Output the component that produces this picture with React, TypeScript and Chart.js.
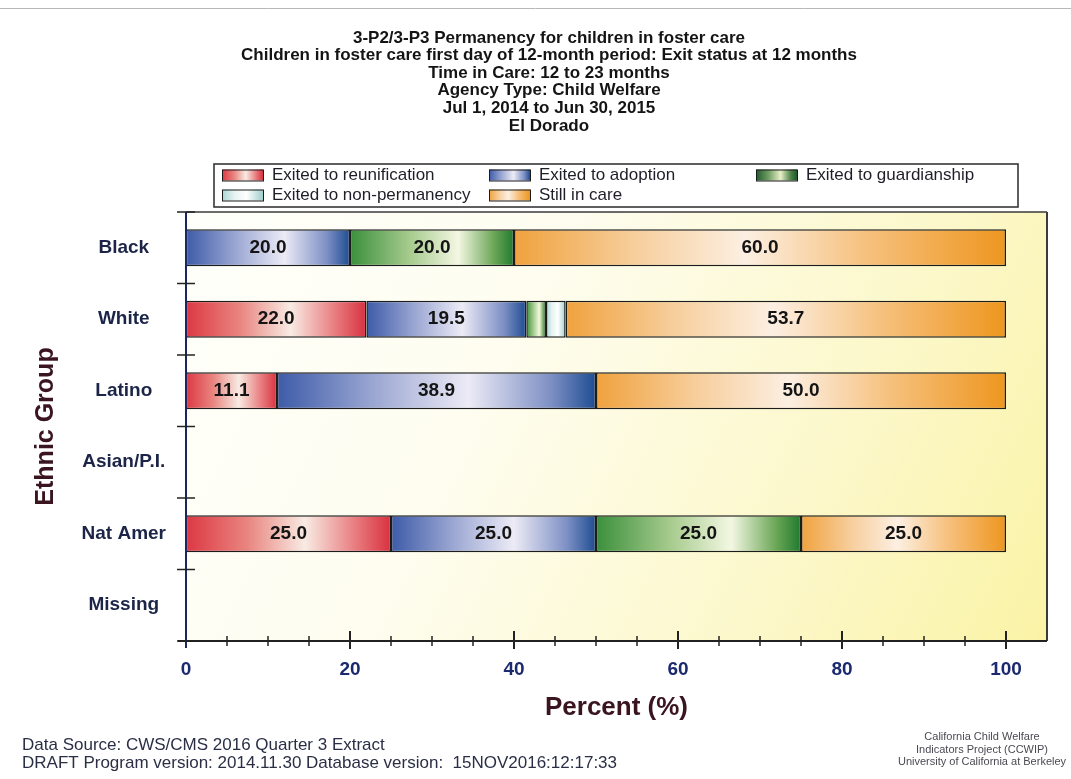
import { useEffect, useRef } from "react";
import { Chart, registerables } from "chart.js";

Chart.register(...registerables);

// ---- data ----
const categories = ["Black", "White", "Latino", "Asian/P.I.", "Nat Amer", "Missing"];
const reunification = [null, 22.0, 11.1, null, 25.0, null];
const adoption = [20.0, 19.5, 38.9, null, 25.0, null];
const guardianship = [20.0, 2.4, null, null, 25.0, null];
const nonPermanency = [null, 2.4, null, null, null, null];
const stillInCare = [60.0, 53.7, 50.0, null, 25.0, null];
const seriesNames = [
  "Exited to reunification",
  "Exited to adoption",
  "Exited to guardianship",
  "Exited to non-permanency",
  "Still in care",
];
const xTickLabels = [0, 20, 40, 60, 80, 100];
const titleLines = [
  "3-P2/3-P3 Permanency for children in foster care",
  "Children in foster care first day of 12-month period: Exit status at 12 months",
  "Time in Care: 12 to 23 months",
  "Agency Type: Child Welfare",
  "Jul 1, 2014 to Jun 30, 2015",
  "El Dorado",
];
const footerLeft = [
  "Data Source: CWS/CMS 2016 Quarter 3 Extract",
  "DRAFT Program version: 2014.11.30 Database version:  15NOV2016:12:17:33",
];
const footerRight = [
  "California Child Welfare",
  "Indicators Project (CCWIP)",
  "University of California at Berkeley",
];

const seriesValues = [reunification, adoption, guardianship, nonPermanency, stillInCare];

// ---- styling ----
const SANS = "'Liberation Sans', Arial, sans-serif";
const NARROW = "'Liberation Sans Narrow', 'Liberation Sans', Arial, sans-serif";

type Stop = [number, string];
const shading: Stop[][] = [
  [[0, "#dc3843"], [0.3, "#e98580"], [0.58, "#f8ebe3"], [0.82, "#e97f82"], [1, "#d8313f"]],
  [[0, "#3d5ba8"], [0.3, "#9aa6d2"], [0.6, "#ecebf6"], [0.86, "#7d8fc4"], [1, "#1e4d92"]],
  [[0, "#3a8f3c"], [0.35, "#a3c98a"], [0.66, "#f3f7e2"], [0.88, "#6aa656"], [1, "#1f7a2e"]],
  [[0, "#a9d6d4"], [0.3, "#e6f3f1"], [0.6, "#ffffff"], [1, "#9fcfcc"]],
  [[0, "#f0a23e"], [0.25, "#f7cf9e"], [0.47, "#fcefe2"], [0.72, "#f6c07c"], [1, "#ee961f"]],
];
const legendShading: Stop[][] = [
  shading[0],
  shading[1],
  [[0, "#1f5a2e"], [0.3, "#6f9c62"], [0.6, "#e8f0c8"], [0.85, "#4d8248"], [1, "#1c5a2c"]],
  shading[3],
  shading[4],
];
const flatColors = ["#e06068", "#8090c8", "#70b060", "#d8eeee", "#f4b060"];

function makeGradient(ctx: CanvasRenderingContext2D, x0: number, x1: number, stops: Stop[]) {
  const g = ctx.createLinearGradient(x0, 0, x1, 0);
  stops.forEach(([o, c]) => g.addColorStop(o, c));
  return g;
}

const segmentFill = (d: number) => (c: any) => {
  const chart = c.chart;
  const xs = chart.scales?.x;
  if (!xs || c.type !== "data") return flatColors[d];
  const i = c.dataIndex;
  let start = 0;
  for (let k = 0; k < d; k++) start += seriesValues[k][i] ?? 0;
  const v = seriesValues[d][i] ?? 0;
  const x0 = xs.getPixelForValue(start);
  const x1 = xs.getPixelForValue(start + v);
  if (!(x1 > x0)) return flatColors[d];
  return makeGradient(chart.ctx, x0, x1, shading[d]);
};

// plot background and page
const backdrop = {
  id: "backdrop",
  beforeDraw(chart: any) {
    const { ctx, chartArea: a } = chart;
    ctx.save();
    ctx.fillStyle = "#ffffff";
    ctx.fillRect(0, 0, chart.width, chart.height);
    // faint frame line near the top edge
    ctx.strokeStyle = "#b8b8b8";
    ctx.lineWidth = 1;
    ctx.beginPath();
    ctx.moveTo(0, 8.5);
    ctx.lineTo(chart.width, 8.5);
    ctx.stroke();
    const g = ctx.createLinearGradient(a.left, a.top, a.right, a.bottom);
    g.addColorStop(0, "#fffffb");
    g.addColorStop(0.35, "#fefdf0");
    g.addColorStop(0.7, "#fcf8cc");
    g.addColorStop(1, "#faf3a6");
    ctx.fillStyle = g;
    ctx.fillRect(a.left, a.top, a.right - a.left, a.bottom - a.top);
    ctx.restore();
  },
};

// value text centred in each wide enough segment
const segmentLabels = {
  id: "segmentLabels",
  afterDatasetsDraw(chart: any) {
    const { ctx } = chart;
    ctx.save();
    ctx.font = `bold 19px ${SANS}`;
    ctx.fillStyle = "#141414";
    ctx.textAlign = "center";
    ctx.textBaseline = "middle";
    chart.data.datasets.forEach((ds: any, d: number) => {
      const meta = chart.getDatasetMeta(d);
      meta.data.forEach((el: any, i: number) => {
        const v = ds.data[i];
        if (v == null || v < 5) return;
        const cx = (el.x + el.base) / 2;
        ctx.fillText(v.toFixed(1), cx, el.y);
      });
    });
    ctx.restore();
  },
};

// frame, axis lines, tick marks, legend, titles and footnotes
const decorations = {
  id: "decorations",
  afterDraw(chart: any) {
    const { ctx, chartArea: a } = chart;
    const xs = chart.scales.x;
    const ys = chart.scales.y;
    ctx.save();

    // frame
    ctx.strokeStyle = "#3a3a3a";
    ctx.lineWidth = 1.5;
    ctx.beginPath();
    ctx.moveTo(a.left, a.top);
    ctx.lineTo(a.right, a.top);
    ctx.stroke();
    ctx.lineWidth = 2;
    ctx.beginPath();
    ctx.moveTo(a.right, a.top);
    ctx.lineTo(a.right, a.bottom);
    ctx.stroke();

    // x axis line
    ctx.strokeStyle = "#222222";
    ctx.lineWidth = 2;
    ctx.beginPath();
    ctx.moveTo(a.left - 8, a.bottom);
    ctx.lineTo(a.right, a.bottom);
    ctx.stroke();

    // y axis line
    ctx.strokeStyle = "#1d2560";
    ctx.beginPath();
    ctx.moveTo(a.left, a.top);
    ctx.lineTo(a.left, a.bottom + 7);
    ctx.stroke();

    // y tick marks at category boundaries
    ctx.strokeStyle = "#222222";
    ctx.lineWidth = 1.5;
    const n = categories.length;
    for (let i = 0; i <= n; i++) {
      let y: number;
      if (i === 0) y = a.top;
      else if (i === n) y = a.bottom;
      else y = (ys.getPixelForValue(i - 1) + ys.getPixelForValue(i)) / 2;
      ctx.beginPath();
      ctx.moveTo(a.left - 9, y);
      ctx.lineTo(a.left + 9, y);
      ctx.stroke();
    }

    // x tick marks every 5, longer every 20
    for (let v = 5; v <= 100; v += 5) {
      const x = xs.getPixelForValue(v);
      const major = v % 20 === 0;
      ctx.lineWidth = major ? 2 : 1.5;
      ctx.beginPath();
      ctx.moveTo(x, a.bottom - (major ? 10 : 5));
      ctx.lineTo(x, a.bottom + (major ? 8 : 5));
      ctx.stroke();
    }

    // title
    ctx.fillStyle = "#141414";
    ctx.textAlign = "center";
    ctx.textBaseline = "middle";
    ctx.font = `bold 17px ${SANS}`;
    titleLines.forEach((t, k) => ctx.fillText(t, 549, 38 + k * 17.6));

    // legend box
    const lx = 214, ly = 164, lw = 804, lh = 43;
    ctx.fillStyle = "#ffffff";
    ctx.fillRect(lx, ly, lw, lh);
    ctx.strokeStyle = "#2a2a2a";
    ctx.lineWidth = 1.5;
    ctx.strokeRect(lx, ly, lw, lh);
    const cols = [222, 489, 756];
    const rows = [175, 195];
    ctx.font = `17px ${SANS}`;
    ctx.textAlign = "left";
    seriesNames.forEach((name, k) => {
      const cx = cols[k % 3];
      const cy = rows[Math.floor(k / 3)];
      const sw = 41, sh = 11;
      ctx.fillStyle = makeGradient(ctx, cx, cx + sw, legendShading[k]);
      ctx.fillRect(cx, cy - sh / 2, sw, sh);
      ctx.strokeStyle = "#1a1a1a";
      ctx.lineWidth = 1;
      ctx.strokeRect(cx + 0.5, cy - sh / 2 + 0.5, sw, sh);
      ctx.fillStyle = "#1e1e28";
      ctx.fillText(name, cx + 50, cy);
    });

    // footnotes
    ctx.fillStyle = "#2a2f45";
    ctx.font = `17px ${SANS}`;
    ctx.textAlign = "left";
    footerLeft.forEach((t, k) => ctx.fillText(t, 22, 745 + k * 18));
    ctx.fillStyle = "#4a4a52";
    ctx.font = `11px ${NARROW}`;
    ctx.textAlign = "center";
    footerRight.forEach((t, k) => ctx.fillText(t, 982, 737 + k * 12.5));

    ctx.restore();
  },
};

export default function App() {
  const ref = useRef<HTMLCanvasElement>(null);

  useEffect(() => {
    const canvas = ref.current;
    if (!canvas) return;
    const chart = new Chart(canvas, {
      type: "bar",
      data: {
        labels: categories,
        datasets: seriesValues.map((vals, d) => ({
          label: seriesNames[d],
          data: vals,
          backgroundColor: segmentFill(d),
          borderColor: "#1c1c1c",
          borderWidth: 1.5,
          borderSkipped: false,
          barPercentage: 0.52,
          categoryPercentage: 1,
        })),
      },
      options: {
        indexAxis: "y",
        responsive: false,
        animation: false,
        devicePixelRatio: 1,
        layout: { padding: { top: 212, right: 24, left: 0, bottom: 0 } },
        plugins: {
          legend: { display: false },
          title: { display: false },
          tooltip: { enabled: false },
        },
        scales: {
          x: {
            stacked: true,
            min: 0,
            max: 105,
            grid: { display: false, drawTicks: false },
            border: { display: false },
            afterFit: (s: any) => {
              s.height = 138;
            },
            ticks: {
              stepSize: 5,
              autoSkip: false,
              maxRotation: 0,
              padding: 17,
              color: "#1b2a6e",
              font: { family: SANS, size: 19, weight: "bold" },
              callback: (v: any) => (xTickLabels.includes(Number(v)) ? String(v) : ""),
            },
            title: {
              display: true,
              text: "Percent (%)",
              color: "#3a1520",
              font: { family: SANS, size: 26, weight: "bold" },
              padding: { top: 0, bottom: 56 },
            },
          },
          y: {
            stacked: true,
            grid: { display: false, drawTicks: false },
            border: { display: false },
            afterFit: (s: any) => {
              s.width = 186;
            },
            ticks: {
              crossAlign: "center",
              padding: 20,
              color: "#1c2548",
              font: { family: SANS, size: 19, weight: "bold" },
            },
            title: {
              display: true,
              text: "Ethnic Group",
              color: "#3a1520",
              font: { family: SANS, size: 25, weight: "bold" },
              padding: { top: 31, bottom: 0 },
            },
          },
        },
      },
      plugins: [backdrop, segmentLabels, decorations],
    } as any);
    return () => chart.destroy();
  }, []);

  return (
    <div style={{ position: "absolute", left: 0, top: 0, width: 1071, height: 779, background: "#fff" }}>
      <canvas ref={ref} width={1071} height={779} style={{ display: "block" }} />
    </div>
  );
}
